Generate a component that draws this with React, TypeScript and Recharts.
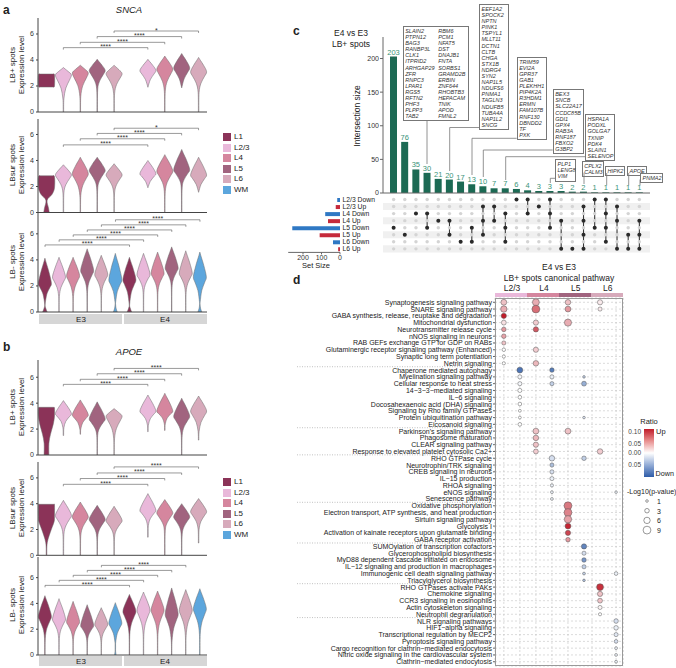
import React from 'react';
import {
  ComposedChart, BarChart, ScatterChart, Bar, Scatter, XAxis, YAxis, ZAxis,
  ReferenceLine, ReferenceArea, CartesianGrid, Cell, LabelList,
} from 'recharts';

const FONT = '"Liberation Sans", Arial, Helvetica, sans-serif';

// ---------- panels a / b : violins ----------
const layers = ['L1', 'L2/3', 'L4', 'L5', 'L6', 'WM'];
const layerColors = ['#8b3358', '#e9b8da', '#d5869e', '#a1647f', '#d7aabb', '#5ca6dd'];

const catsLB = ['E3 L1', 'E3 L2/3', 'E3 L4', 'E3 L5', 'E3 L6', 'E4 L1', 'E4 L2/3', 'E4 L4', 'E4 L5', 'E4 L6'];
const catsAll = ['E3 L1', 'E3 L2/3', 'E3 L4', 'E3 L5', 'E3 L6', 'E3 WM', 'E4 L1', 'E4 L2/3', 'E4 L4', 'E4 L5', 'E4 L6', 'E4 WM'];

// violin = [min, neck, peak, max, bulbAtMin] or explicit [value, relWidth] profile
const sncaLBpos = [
  [[1.92, 0.8], [2.0, 1], [2.85, 1], [2.92, 0.8]],
  [0, 1.0, 2.85, 3.42], [0, 1.2, 3.0, 3.6], [0, 1.7, 3.2, 4.05], [0, 1.4, 2.95, 3.6],
  null,
  [1.9, 1.9, 3.2, 4.05], [0, 1.6, 3.3, 4.3], [1.85, 1.85, 3.4, 4.5], [0, 1.5, 3.1, 4.2],
];
const sncaLBsur = [
  [[0, 0.35], [0.35, 0.25], [0.95, 0.08], [1.4, 0.7], [1.9, 1], [2.75, 1], [2.82, 0.7]],
  [0, 1.5, 2.9, 3.67], [0, 1.3, 3.0, 4.25], [0, 1.8, 3.25, 4.25], [0, 1.5, 2.9, 3.75],
  null,
  [1.9, 1.9, 3.0, 4.0], [0, 1.6, 3.2, 4.45], [0, 1.9, 3.3, 4.85], [1.55, 1.55, 2.9, 4.25],
];
const sncaLBneg = [
  [0, 0.7, 2.2, 4.13, 0.35], [0, 1.2, 2.7, 4.2], [0, 1.2, 2.8, 4.2], [0, 1.6, 3.2, 4.85], [0, 1.4, 2.9, 4.35], [0, 0.8, 2.5, 4.5, 0.3],
  [0, 0.7, 2.5, 4.2, 0.35], [0, 1.5, 2.9, 4.5], [0, 1.5, 3.0, 4.6], [0, 1.9, 3.4, 5.0], [0, 1.5, 3.0, 4.7], [0, 0.8, 2.7, 4.6, 0.3],
];
const apoeLBpos = [
  [[0, 0.3], [0.9, 0.3], [1.6, 0.5], [2.4, 0.85], [3.0, 1], [3.62, 1], [3.68, 0.9]],
  [1.5, 2.1, 3.2, 4.2], [1.6, 2.0, 3.1, 4.25], [0, 1.5, 2.8, 4.1], [0, 1.3, 3.0, 3.58],
  null,
  [1.8, 2.3, 3.4, 4.63], [1.9, 2.4, 3.4, 4.76], [0, 1.5, 3.0, 4.38], [1.15, 1.8, 3.4, 4.55],
];
const apoeLBsur = [
  [[0, 0.04], [1.0, 0.1], [2.0, 0.6], [2.6, 0.95], [3.0, 1], [3.9, 1], [3.95, 0.9]],
  [0, 1.6, 3.1, 4.26], [0, 1.5, 3.0, 4.13], [0, 1.4, 2.8, 3.87], [0, 1.4, 2.7, 3.8],
  null,
  [1.4, 2.3, 3.5, 4.78], [0, 1.9, 3.3, 4.32], [0, 1.6, 3.0, 4.0], [0.95, 2.0, 3.4, 4.4],
];
const apoeLBneg = [
  [0, 1.3, 3.0, 4.6], [0, 1.3, 2.8, 4.37], [0, 1.2, 2.6, 4.16], [0, 1.1, 2.3, 3.9], [0, 1.1, 2.4, 3.67], [0, 1.0, 2.5, 4.06, 0.12],
  [0, 1.6, 3.4, 4.7], [0, 1.6, 3.5, 4.88], [0, 1.6, 3.5, 4.96], [0, 1.1, 3.2, 5.2], [0, 1.5, 3.5, 5.07], [0, 1.6, 3.6, 5.14],
];

// brackets: [fromIndex, toIndex, height, label]
const sncaBrPos = [[1, 6, 4.95, '****'], [2, 7, 5.36, '****'], [3, 8, 5.8, '****'], [4, 9, 6.23, '*']];
const sncaBrSur = [[1, 6, 5.2, '****'], [2, 7, 5.67, '****'], [3, 8, 6.08, '****'], [4, 9, 6.48, '*']];
const sncaBrNeg = [[0, 6, 5.15, '****'], [1, 7, 5.54, '****'], [2, 8, 5.92, '****'], [3, 9, 6.3, '****'], [4, 10, 6.69, '****'], [5, 11, 7.08, '****']];
const apoeBrPos = [[1, 6, 5.45, '****'], [2, 7, 5.84, '****'], [3, 8, 6.27, '****'], [4, 9, 6.68, '****']];
const apoeBrSur = [[1, 6, 5.5, '****'], [2, 7, 5.95, '****'], [3, 8, 6.38, '****'], [4, 9, 6.85, '****']];
const apoeBrNeg = [[0, 6, 5.4, '****'], [1, 7, 5.79, '****'], [2, 8, 6.18, '****'], [3, 9, 6.56, '****'], [4, 10, 6.95, '****']];

// ---------- panel c : upset ----------
const setNames = ['L2/3 Down', 'L2/3 Up', 'L4 Down', 'L4 Up', 'L5 Down', 'L5 Up', 'L6 Down', 'L6 Up'];
const setSizes = [15, 23, 80, 65, 258, 110, 38, 10];
const interSizes = [203, 76, 35, 30, 21, 20, 17, 13, 10, 7, 7, 6, 4, 3, 3, 3, 2, 2, 1, 1, 1, 1, 1];
const interSets = [[4], [5], [2], [2, 4], [3], [3, 5], [6], [4, 6], [1, 3, 5], [1, 3], [2, 4, 6], [0], [0, 2], [1], [0, 2, 4], [3, 7], [7], [1, 3, 5, 7], [0, 4], [0, 2, 4, 6], [1, 3, 7], [5, 7], [3, 5, 7]];

const geneBox1a = ['SLAIN2', 'PTPN12', 'BAG3', 'RANBP3L', 'CLK1', 'ITPRID2', 'ARHGAP29', 'ZFR', 'RNPC3', 'LPAR1', 'RGS5', 'RFTN2', 'PHF3', 'PLPP3', 'TAB2'];
const geneBox1b = ['RBM6', 'PCM1', 'NFAT5', 'DST', 'DNAJB1', 'FNTA', 'SORBS1', 'GRAMD2B', 'ERBIN', 'ZNF644', 'RHOBTB3', 'HEPACAM', 'TNIK', 'APOD', 'FMNL2'];
const geneBox2 = ['EEF1A2', 'SPOCK2', 'NPTN', 'PINK1', 'TSPYL1', 'MLLT11', 'DCTN1', 'CLTB', 'CHGA', 'STX1B', 'NDRG4', 'SYN2', 'NAP1L5', 'NDUFS6', 'PNMA1', 'TAGLN3', 'NDUFB5', 'TUBA4A', 'NAP1L2', 'SNCG'];
const geneBox3 = ['TRIM59', 'EVI2A', 'GPR37', 'GAB1', 'PLEKHH1', 'PIP4K2A', 'R3HDM1', 'ERMN', 'FAM107B', 'RNF130', 'DBNDD2', 'TF', 'PXK'];
const geneBox4 = ['BEX3', 'SNCB', 'SLC22A17', 'CCDC85B', 'GDI1', 'GPX4', 'RAB3A', 'RNF187', 'FBXO2', 'G3BP2'];
const geneBox5 = ['HSPA1A', 'PODXL', 'GOLGA7', 'TXNIP', 'PDK4', 'SLAIN1', 'SELENOP'];
const geneBox6 = ['PLP1', 'LENG8', 'VIM'];
const geneBox7 = ['CPLX2', 'CALM3'];

// ---------- panel d : pathways ----------
const pathways = [
  'Synaptogenesis signaling pathway', 'SNARE signaling pathway', 'GABA synthesis, release, reuptake and degradation',
  'Mitochondrial dysfunction', 'Neurotransmitter release cycle', 'nNOS signaling in neurons',
  'RAB GEFs exchange GTP for GDP on RABs', 'Glutaminergic receptor signaling pathway (Enhanced)',
  'Synaptic long term potentiation', 'Netrin signaling',
  'Chaperone mediated autophagy', 'Myelination signaling pathway', 'Cellular response to heat stress',
  '14\u22123\u22123\u2212mediated signaling', 'IL\u22126 signaling', 'Docosahexaenoic acid (DHA) signaling',
  'Signaling by Rho family GTPases', 'Protein ubiquitination pathway', 'Eicosanoid signaling',
  "Parkinson's signaling pathway", 'Phagosome maturation', 'CLEAR signaling pathway',
  'Response to elevated platelet cytosolic Ca2+',
  'RHO GTPase cycle', 'Neurotrophin/TRK signaling', 'CREB signaling in neurons', 'IL\u221215 production',
  'RHOA signaling', 'eNOS signaling', 'Senescence pathway',
  'Oxidative phosphorylation', 'Electron transport, ATP synthesis, and heat production', 'Sirtuin signaling pathway',
  'Glycolysis I', 'Activation of kainate receptors upon glutamate binding', 'GABA receptor activation',
  'SUMOylation of transcription cofactors', 'Glycerophospholipid biosynthesis', 'MyD88 dependent cascade initiated on endosome',
  'IL\u221212 signaling and production in macrophages', 'Immunogenic cell death signaling pathway', 'Triacylglycerol biosynthesis',
  'RHO GTPases activate PAKs', 'Chemokine signaling', 'CCR3 signaling in eosinophils', 'Actin cytoskeleton signaling',
  'Neutrophil degranulation',
  'NLR signaling pathways', 'HIF1\u2212alpha signaling', 'Transcriptional regulation by MECP2', 'Pyroptosis signaling pathway',
  'Cargo recognition for clathrin\u2212mediated endocytosis', 'Nitric oxide signaling in the cardiovascular system',
  'Clathrin\u2212mediated endocytosis',
];
const groupBreaks = [9, 18, 22, 29, 35, 41, 46];
// columns: 0 L2/3 Up, 1 L2/3 Down, 2 L4 Up, 3 L4 Down, 4 L5 Up, 5 L5 Down, 6 L6 Up, 7 L6 Down
// [row, column, ratio, -log10 p]
const pathwayDots = [
  [0, 0, 0.03, 5], [0, 2, 0.04, 7], [0, 4, 0.03, 4.5], [0, 6, 0.01, 4],
  [1, 0, 0.04, 6], [1, 2, 0.07, 9], [1, 4, 0.05, 5], [1, 6, 0.01, 2.5],
  [2, 0, 0.11, 4],
  [3, 0, 0.015, 3.5], [3, 2, 0.025, 4], [3, 4, 0.04, 7.5],
  [4, 0, 0.05, 3], [4, 2, 0.08, 4],
  [5, 0, 0.045, 3], [6, 0, 0.03, 2.5],
  [7, 0, 0.0, 1.8], [7, 2, 0.025, 4],
  [8, 0, 0, 1.5], [9, 0, 0, 1.5], [9, 2, 0.035, 4.5],
  [10, 1, -0.085, 5], [10, 3, -0.08, 3],
  [11, 1, -0.005, 2.5], [11, 3, -0.01, 2.5], [11, 5, -0.03, 1],
  [12, 1, -0.005, 2.5], [12, 3, -0.03, 2.5], [12, 5, -0.05, 3.5],
  [13, 1, 0, 2.5], [14, 1, 0, 2], [15, 1, 0, 2], [16, 1, 0, 1.2],
  [17, 1, 0, 1.2], [17, 5, -0.02, 1], [18, 1, 0, 2],
  [19, 2, 0.03, 5], [19, 4, 0.03, 5], [20, 2, 0.035, 4.5], [21, 2, 0.03, 4],
  [22, 2, 0.025, 3.5], [22, 6, 0.025, 4.5],
  [23, 3, -0.02, 4.5], [23, 5, -0.03, 3], [24, 3, -0.04, 2.5], [25, 3, -0.02, 2.5], [26, 3, -0.01, 2.5],
  [27, 3, -0.01, 1.5], [28, 3, -0.01, 1.2], [28, 7, -0.01, 1], [29, 3, -0.01, 1.2],
  [30, 4, 0.065, 9], [31, 4, 0.06, 9], [32, 4, 0.045, 8], [33, 4, 0.105, 5], [34, 4, 0.09, 4], [35, 4, 0.05, 3],
  [36, 5, -0.075, 4], [37, 5, -0.02, 2.5], [38, 5, -0.065, 3], [39, 5, -0.03, 2.5],
  [40, 5, -0.03, 1.2], [40, 7, -0.01, 2], [41, 5, -0.04, 1],
  [42, 6, 0.1, 7], [43, 6, 0.03, 4], [44, 6, 0.03, 3.5], [45, 6, 0.005, 2.5], [46, 6, 0.0, 1.5],
  [47, 7, -0.02, 3], [48, 7, -0.01, 3], [49, 7, -0.015, 2.5], [50, 7, -0.02, 2],
  [51, 7, -0.01, 1.2], [52, 7, -0.01, 1.2], [53, 7, -0.01, 1.2],
];
const pathwayCols = ['L2/3', 'L4', 'L5', 'L6'];
const sizeLegend = [1, 3, 6, 9];

// ---------- helpers ----------
function shapeOf(s: any): number[][] {
  if (Array.isArray(s[0])) return s;
  const [min, neck, peak, max, bulb = 0] = s;
  const pts: number[][] = [];
  if (bulb) pts.push([min, bulb], [min + 0.3, bulb * 0.35], [min + 0.6, 0.04]);
  else pts.push([min, neck > min ? 0.03 : 0]);
  if (neck > min + (bulb ? 0.7 : 0.05)) pts.push([neck, 0.06]);
  pts.push(
    [neck + (peak - neck) * 0.45, 0.3], [neck + (peak - neck) * 0.78, 0.75], [peak, 1],
    [peak + (max - peak) * 0.45, 0.62], [peak + (max - peak) * 0.8, 0.22], [max, 0],
  );
  return pts;
}

function smooth(pts: number[][]) {
  let d = '';
  for (let i = 0; i < pts.length - 1; i++) {
    const p0 = pts[Math.max(0, i - 1)], p1 = pts[i], p2 = pts[i + 1], p3 = pts[Math.min(pts.length - 1, i + 2)];
    const c1x = p1[0] + (p2[0] - p0[0]) / 6, c1y = p1[1] + (p2[1] - p0[1]) / 6;
    const c2x = p2[0] - (p3[0] - p1[0]) / 6, c2y = p2[1] - (p3[1] - p1[1]) / 6;
    d += ` C${c1x},${c1y} ${c2x},${c2y} ${p2[0]},${p2[1]}`;
  }
  return d;
}

const violinShape = (p: any) => {
  const { x, y, width, height, payload } = p;
  if (!payload || !payload.prof) return null;
  const [lo, hi] = payload.range;
  const cx = x + width / 2, half = width / 2;
  const py = (v: number) => y + (height * (hi - v)) / (hi - lo);
  const right = payload.prof.map(([v, w]: number[]) => [cx + w * half, py(v)]);
  const left = [...payload.prof].reverse().map(([v, w]: number[]) => [cx - w * half, py(v)]);
  const d = `M${right[0][0]},${right[0][1]}` + smooth(right) + ` L${left[0][0]},${left[0][1]}` + smooth(left) + ' Z';
  return <path d={d} fill={layerColors[payload.layer]} stroke="#6a6a6a" strokeWidth={0.5} />;
};

function ratioColor(r: number) {
  const hi = [193, 28, 42], lo = [45, 92, 168];
  const c = r >= 0 ? hi : lo;
  const t = r >= 0 ? Math.min(r / 0.11, 1) : Math.min(-r / 0.1, 1);
  const ch = (k: number) => Math.round(255 + (c[k] - 255) * t);
  return `rgb(${ch(0)},${ch(1)},${ch(2)})`;
}

const Txt = ({ x, y, s, size = 8, anchor = 'middle', bold = false, italic = false, color = '#222', rot = 0 }: any) => {
  const tx = anchor === 'middle' ? '-50%' : anchor === 'end' ? '-100%' : '0';
  return (
    <div style={{
      position: 'absolute', left: x, top: y, whiteSpace: 'nowrap', fontSize: size, lineHeight: 1, color,
      fontWeight: bold ? 700 : 400, fontStyle: italic ? 'italic' : 'normal',
      transform: `translate(${tx},-50%)${rot ? ` rotate(${rot}deg)` : ''}`,
    }}>{s}</div>
  );
};

function ViolinRow({ top, bottom, yMax, cats, shapes, brackets }: any) {
  const data = cats.map((c: string, i: number) => {
    const layer = layers.indexOf(c.split(' ')[1]);
    const s = shapes[i];
    if (!s) return { cat: c, layer };
    const prof = shapeOf(s);
    return { cat: c, layer, prof, range: [prof[0][0], prof[prof.length - 1][0]] };
  });
  const H = bottom - top;
  return (
    <div style={{ position: 'absolute', left: 0, top: top - 4 }}>
      <ComposedChart width={212} height={H + 8} data={data} margin={{ top: 4, right: 5, bottom: 3, left: 0 }} barCategoryGap="3%">
        <XAxis dataKey="cat" tick={false} tickLine={false} height={1} axisLine={{ stroke: '#444' }} />
        <YAxis domain={[0, yMax]} ticks={[0, 2, 4, 6]} width={38} allowDataOverflow
          tick={{ fontSize: 7, fill: '#333' }} tickSize={2} tickMargin={2}
          axisLine={{ stroke: '#444' }} tickLine={{ stroke: '#444' }} />
        <Bar dataKey="range" isAnimationActive={false} shape={violinShape} />
        {brackets.map(([a, b, h, lab]: any, i: number) => (
          <ReferenceLine key={`h${i}`} segment={[{ x: cats[a], y: h }, { x: cats[b], y: h }]} stroke="#555" strokeWidth={0.6}
            label={{ value: lab, position: 'top', offset: -1.5, fontSize: 7, fill: '#333' }} />
        ))}
        {brackets.map(([a, , h]: any, i: number) => (
          <ReferenceLine key={`l${i}`} segment={[{ x: cats[a], y: h }, { x: cats[a], y: h - 0.15 }]} stroke="#555" strokeWidth={0.6} />
        ))}
        {brackets.map(([, b, h]: any, i: number) => (
          <ReferenceLine key={`r${i}`} segment={[{ x: cats[b], y: h }, { x: cats[b], y: h - 0.15 }]} stroke="#555" strokeWidth={0.6} />
        ))}
      </ComposedChart>
    </div>
  );
}

const RowLabel = ({ cy, l1 }: any) => (
  <>
    <Txt x={13} y={cy} s={l1} size={8} rot={-90} />
    <Txt x={21.5} y={cy} s="Expression level" size={8} rot={-90} />
  </>
);

const Strip = ({ y }: any) => (
  <>
    <div style={{ position: 'absolute', left: 39, top: y, width: 83, height: 10, background: '#d6d6d6' }} />
    <div style={{ position: 'absolute', left: 124, top: y, width: 83, height: 10, background: '#d6d6d6' }} />
    <Txt x={81} y={y + 5.5} s="E3" size={8} />
    <Txt x={165} y={y + 5.5} s="E4" size={8} />
  </>
);

const Legend = ({ y0 }: any) => (
  <>
    {layers.map((l, i) => (
      <React.Fragment key={l}>
        <div style={{ position: 'absolute', left: 223, top: y0 + i * 10.6 - 4, width: 8, height: 8, background: layerColors[i] }} />
        <Txt x={234} y={y0 + i * 10.6} s={l} size={8} anchor="start" />
      </React.Fragment>
    ))}
  </>
);

const GeneBox = ({ x, y, cols, widths }: any) => (
  <div style={{
    position: 'absolute', left: x, top: y, border: '0.8px solid #777', padding: '1px 1.5px', display: 'flex',
    fontSize: 5.5, lineHeight: '6.1px', fontStyle: 'italic', color: '#333', background: '#fff',
  }}>
    {cols.map((c: string[], i: number) => (
      <div key={i} style={{ width: widths[i] }}>{c.map((g) => <div key={g}>{g}</div>)}</div>
    ))}
  </div>
);

const leaders = [
  [[427, 121], [427, 164]],
  [[479, 127.5], [449.7, 127.5], [449.7, 171]],
  [[516.7, 138.3], [472, 138.3], [472, 175]],
  [[552.7, 150], [483.3, 150], [483.3, 177]],
  [[585, 156.7], [505.7, 156.7], [505.7, 180]],
  [[555, 178.3], [550.3, 178.3], [550.3, 183]],
  [[584, 172.7], [584, 184]],
  [[606.7, 173], [606.7, 185.5]],
  [[628.7, 173], [628.7, 185.5]],
  [[640, 179.5], [640, 185.5]],
];

export default function App() {
  const upsetData = interSizes.map((v, i) => ({ id: `c${i}`, v }));
  const matrixBg = interSizes.flatMap((_, i) => setNames.map((__, r) => ({ x: i, y: r })));
  const matrixOn = interSets.flatMap((s, i) => s.map((r) => ({ x: i, y: r })));
  const setData = setNames.map((n, i) => ({ name: n, size: setSizes[i] }));
  const dotData = pathwayDots.map(([r, c, ratio, p]) => ({ x: c * 2, y: r, ratio, p }));
  const rowTicks = pathways.map((_, i) => i);
  const xTicks = Array.from({ length: 15 }, (_, i) => i);

  return (
    <div style={{ position: 'absolute', left: 0, top: 0, width: 676, height: 668, background: '#fff', fontFamily: FONT, overflow: 'hidden' }}>
      {/* panel a */}
      <Txt x={3} y={10} s="a" size={12} bold anchor="start" />
      <Txt x={129} y={10} s="SNCA" size={9.5} italic />
      <ViolinRow top={18} bottom={112} yMax={7.23} cats={catsLB} shapes={sncaLBpos} brackets={sncaBrPos} />
      <ViolinRow top={118.5} bottom={212} yMax={7.19} cats={catsLB} shapes={sncaLBsur} brackets={sncaBrSur} />
      <ViolinRow top={213} bottom={312} yMax={7.6} cats={catsAll} shapes={sncaLBneg} brackets={sncaBrNeg} />
      <RowLabel cy={65} l1="LB+ spots" />
      <RowLabel cy={165} l1="LBsur spots" />
      <RowLabel cy={262} l1="LB- spots" />
      <Strip y={314} />
      <Legend y0={137} />

      {/* panel b */}
      <Txt x={3} y={347} s="b" size={12} bold anchor="start" />
      <Txt x={129} y={352} s="APOE" size={9.5} italic />
      <ViolinRow top={360} bottom={455} yMax={7.33} cats={catsLB} shapes={apoeLBpos} brackets={apoeBrPos} />
      <ViolinRow top={461.7} bottom={555} yMax={7.23} cats={catsLB} shapes={apoeLBsur} brackets={apoeBrSur} />
      <ViolinRow top={556.7} bottom={654.7} yMax={7.6} cats={catsAll} shapes={apoeLBneg} brackets={apoeBrNeg} />
      <RowLabel cy={407} l1="LB+ spots" />
      <RowLabel cy={508} l1="LBsur spots" />
      <RowLabel cy={605} l1="LB- spots" />
      <Strip y={656} />
      <Legend y0={482} />

      {/* panel c */}
      <Txt x={293} y={31} s="c" size={12} bold anchor="start" />
      <Txt x={351} y={33} s="E4 vs E3" size={8.5} />
      <Txt x={351} y={43.5} s="LB+ spots" size={8.5} />
      <Txt x={357} y={116} s="Intersection size" size={8.5} rot={-90} />
      <div style={{ position: 'absolute', left: 340, top: 33 }}>
        <ComposedChart width={315} height={164} data={upsetData} margin={{ top: 4, right: 5, bottom: 3, left: 0 }}>
          <XAxis dataKey="id" tick={false} tickLine={false} height={1} padding={{ left: 5, right: 5 }} axisLine={{ stroke: '#666' }} />
          <YAxis domain={[0, 232]} ticks={[0, 50, 100, 150, 200]} width={43} tick={{ fontSize: 7, fill: '#333' }}
            tickSize={3} tickMargin={1} axisLine={{ stroke: '#666' }} tickLine={{ stroke: '#666' }} />
          <Bar dataKey="v" fill="#1c6a54" barSize={7} isAnimationActive={false}>
            <LabelList dataKey="v" position="top" offset={2} fontSize={7.5} fill="#3a9478" />
          </Bar>
        </ComposedChart>
      </div>
      <div style={{ position: 'absolute', left: 340, top: 193.8 }}>
        <ScatterChart width={315} height={60.4} margin={{ top: 2, right: 5, bottom: 2, left: 43 }}>
          <XAxis type="number" dataKey="x" domain={[-0.95, 22.95]} hide />
          <YAxis type="number" dataKey="y" domain={[-0.5, 7.5]} reversed hide />
          {[1, 3, 5, 7].map((r) => (
            <ReferenceArea key={r} y1={r - 0.5} y2={r + 0.5} fill="#f0f0f0" fillOpacity={1} stroke="none" />
          ))}
          <Scatter data={matrixBg} isAnimationActive={false} shape={(p: any) => <circle cx={p.cx} cy={p.cy} r={1.7} fill="#d4d4d4" />} />
          {interSets.map((s, i) => s.length > 1 ? (
            <ReferenceLine key={i} segment={[{ x: i, y: Math.min(...s) }, { x: i, y: Math.max(...s) }]} stroke="#3a3a3a" strokeWidth={1.1} />
          ) : null)}
          <Scatter data={matrixOn} isAnimationActive={false} shape={(p: any) => <circle cx={p.cx} cy={p.cy} r={2} fill="#2a2a2a" />} />
        </ScatterChart>
      </div>
      <div style={{ position: 'absolute', left: 280, top: 195.8 }}>
        <BarChart layout="vertical" width={110} height={70.4} data={setData} margin={{ top: 0, right: 0, bottom: 0, left: 8.2 }}>
          <XAxis type="number" domain={[0, 280]} reversed ticks={[0, 100, 200]} height={14} tick={{ fontSize: 7, fill: '#333' }}
            tickSize={2} tickMargin={1} axisLine={{ stroke: '#666' }} tickLine={{ stroke: '#666' }} />
          <YAxis type="category" dataKey="name" orientation="right" width={50} axisLine={false} tickLine={false} interval={0}
            tick={(p: any) => <text x={62.5} y={p.y} dy={2.4} fontSize={6.8} fill="#222" textAnchor="start">{p.payload.value}</text>} />
          <Bar dataKey="size" barSize={4} isAnimationActive={false}>
            {setData.map((d) => <Cell key={d.name} fill={d.name.endsWith('Up') ? '#c62a3b' : '#2f78c4'} />)}
          </Bar>
        </BarChart>
      </div>
      <Txt x={316} y={266} s="Set Size" size={7.5} />
      <GeneBox x={402.7} y={26} cols={[geneBox1a, geneBox1b]} widths={[33, 28]} />
      <GeneBox x={479} y={4} cols={[geneBox2]} widths={[25]} />
      <GeneBox x={516.7} y={56.7} cols={[geneBox3]} widths={[25]} />
      <GeneBox x={552.7} y={89.3} cols={[geneBox4]} widths={[26]} />
      <GeneBox x={585} y={114.3} cols={[geneBox5]} widths={[25]} />
      <GeneBox x={555} y={159.3} cols={[geneBox6]} widths={[16]} />
      <GeneBox x={581.7} y={160.7} cols={[geneBox7]} widths={[17]} />
      <GeneBox x={605} y={165.7} cols={[['HIPK2']]} widths={[15]} />
      <GeneBox x={627} y={165.7} cols={[['APOE']]} widths={[15]} />
      <GeneBox x={640} y={172.5} cols={[['PNMA2']]} widths={[18]} />

      {/* panel d */}
      <Txt x={293} y={280} s="d" size={12} bold anchor="start" />
      <Txt x={559} y={267} s="E4 vs E3" size={8.5} />
      <Txt x={559} y={277.5} s="LB+ spots canonical pathway" size={8.5} />
      {pathwayCols.map((c, i) => (
        <React.Fragment key={c}>
          <Txt x={512 + i * 31.9} y={287.5} s={c} size={8.5} />
          <div style={{ position: 'absolute', left: 495 + i * 32.1, top: 292.5, width: 32.1, height: 4.5, background: layerColors[i + 1] }} />
        </React.Fragment>
      ))}
      <div style={{ position: 'absolute', left: 295, top: 296 }}>
        <ScatterChart width={330.3} height={372} margin={{ top: 2, right: 2, bottom: 2, left: 0 }}>
          <CartesianGrid stroke="#c2c2c2" strokeDasharray="2 2" strokeWidth={0.6} />
          <XAxis type="number" dataKey="x" domain={[-1.1, 14.9]} ticks={xTicks} hide />
          <YAxis type="number" dataKey="y" domain={[-0.63, 53.63]} reversed ticks={rowTicks} interval={0} width={200}
            tick={(p: any) => (
              <text x={p.x} y={p.y} dy={2.5} textAnchor="end" fontSize={7} fill="#222">{pathways[p.payload.value]}</text>
            )}
            tickSize={2} tickMargin={1} axisLine={false} tickLine={{ stroke: '#666' }} />
          <ZAxis type="number" dataKey="p" domain={[0, 9]} range={[0, 48]} />
          <Scatter data={dotData} isAnimationActive={false} stroke="#555" strokeWidth={0.5}>
            {dotData.map((d, i) => <Cell key={i} fill={ratioColor(d.ratio)} />)}
          </Scatter>
        </ScatterChart>
      </div>
      <div style={{ position: 'absolute', left: 495, top: 298, width: 128.3, height: 368, border: '0.8px solid #999', boxSizing: 'border-box' }} />

      {/* ratio legend */}
      <Txt x={649} y={422} s="Ratio" size={7.5} />
      <div style={{ position: 'absolute', left: 644, top: 429, width: 10, height: 48, background: 'linear-gradient(#c01c2a, #e88f8f 25%, #ffffff 50%, #93acd6 75%, #2e5ca8)' }} />
      <Txt x={641} y={432} s="0.10" size={6.5} anchor="end" color="#444" />
      <Txt x={641} y={443.7} s="0.05" size={6.5} anchor="end" color="#444" />
      <Txt x={641} y={453.3} s="0.00" size={6.5} anchor="end" color="#444" />
      <Txt x={641} y={465} s="0.05" size={6.5} anchor="end" color="#444" />
      <Txt x={656} y={432} s="Up" size={7.5} anchor="start" />
      <Txt x={655.5} y={474} s="Down" size={7.2} anchor="start" />
      <Txt x={627} y={490.7} s="-Log10(p-value)" size={7} anchor="start" />
      {sizeLegend.map((v, i) => (
        <Txt key={v} x={657} y={501 + i * 9.7} s={String(v)} size={7} anchor="start" />
      ))}

      <svg width={676} height={668} style={{ position: 'absolute', left: 0, top: 0, pointerEvents: 'none' }}>
        {leaders.map((pts, i) => (
          <polyline key={i} points={pts.map((p) => p.join(',')).join(' ')} fill="none" stroke="#777" strokeWidth={0.8} />
        ))}
        {groupBreaks.map((b) => (
          <line key={b} x1={297} x2={493} y1={302.3 + 6.78 * (b + 0.5)} y2={302.3 + 6.78 * (b + 0.5)} stroke="#999" strokeWidth={0.6} strokeDasharray="1 1.5" />
        ))}
        {sizeLegend.map((v, i) => (
          <circle key={v} cx={647} cy={501 + i * 9.7} r={Math.sqrt((v / 9) * 48 / Math.PI)} fill="#fff" stroke="#555" strokeWidth={0.6} />
        ))}
      </svg>
    </div>
  );
}
